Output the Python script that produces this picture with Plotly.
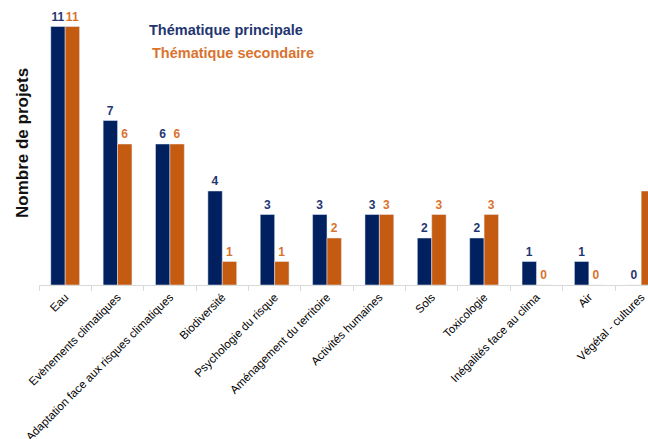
import plotly.graph_objects as go

categories = ["Eau", "Evènements climatiques", "Adaptation face aux risques climatiques",
              "Biodiversité", "Psychologie du risque", "Aménagement du territoire",
              "Activités humaines", "Sols", "Toxicologie", "Inégalités face au clima",
              "Air", "Végétal - cultures"]
principale = [11, 7, 6, 4, 3, 3, 3, 2, 2, 1, 1, 0]
secondaire = [11, 6, 6, 1, 1, 2, 3, 3, 3, 0, 0, 4]

NAVY = "#002060"
ORANGE = "#C55A11"
FONT = "Liberation Sans, Arial, sans-serif"

fig = go.Figure()
fig.add_trace(go.Bar(x=categories, y=principale, name="Thématique principale",
                     marker_color=NAVY, text=principale, textposition="outside",
                     textfont=dict(color="#1F3670", size=12, family=FONT),
                     cliponaxis=False))
fig.add_trace(go.Bar(x=categories, y=secondaire, name="Thématique secondaire",
                     marker_color=ORANGE, text=secondaire, textposition="outside",
                     textfont=dict(color="#D9732E", size=12, family=FONT),
                     cliponaxis=False))

fig.update_layout(
    width=648, height=439,
    margin=dict(l=39, r=0, t=3, b=154, autoexpand=False),
    paper_bgcolor="white", plot_bgcolor="white",
    barmode="group", bargap=0.45, bargroupgap=0,
    showlegend=False,
    font=dict(family=FONT),
)
fig.update_traces(texttemplate="<b>%{text}</b>")
fig.update_xaxes(range=[-0.5, 11.13], tickangle=-45, showline=True, linecolor="#D9D9D9",
                 linewidth=1, ticks="outside", tickson="boundaries", tickcolor="#D9D9D9",
                 ticklen=5, tickfont=dict(size=11.5, color="#000000", family=FONT),
                 showgrid=False, automargin=False)
fig.update_yaxes(range=[0, 12], showticklabels=False, showgrid=False, zeroline=False,
                 showline=False, ticks="", automargin=False)

fig.add_annotation(x=22, y=143, xref="paper", yref="paper", xanchor="center", yanchor="middle",
                   text="<b>Nombre de projets</b>",
                   showarrow=False, textangle=-90, font=dict(size=17, color="#111111", family=FONT))
fig.add_annotation(x=147, y=30, xref="paper", yref="paper", xanchor="left", yanchor="middle",
                   text="<b>Thématique principale</b>", showarrow=False,
                   font=dict(size=14.5, color="#1F3670", family=FONT))
fig.add_annotation(x=150, y=53, xref="paper", yref="paper", xanchor="left", yanchor="middle",
                   text="<b>Thématique secondaire</b>", showarrow=False,
                   font=dict(size=14.5, color="#D9732E", family=FONT))

# convert pixel positions of annotations to paper coords
pw = 648 - 39 - 0
ph = 439 - 3 - 154
for a in fig.layout.annotations:
    a.x = (a.x - 39) / pw
    a.y = 1 - (a.y - 3) / ph

fig.write_html("out.html", config={"displayModeBar": False},
               post_script="document.body.style.margin='0';document.body.style.overflow='hidden';")
